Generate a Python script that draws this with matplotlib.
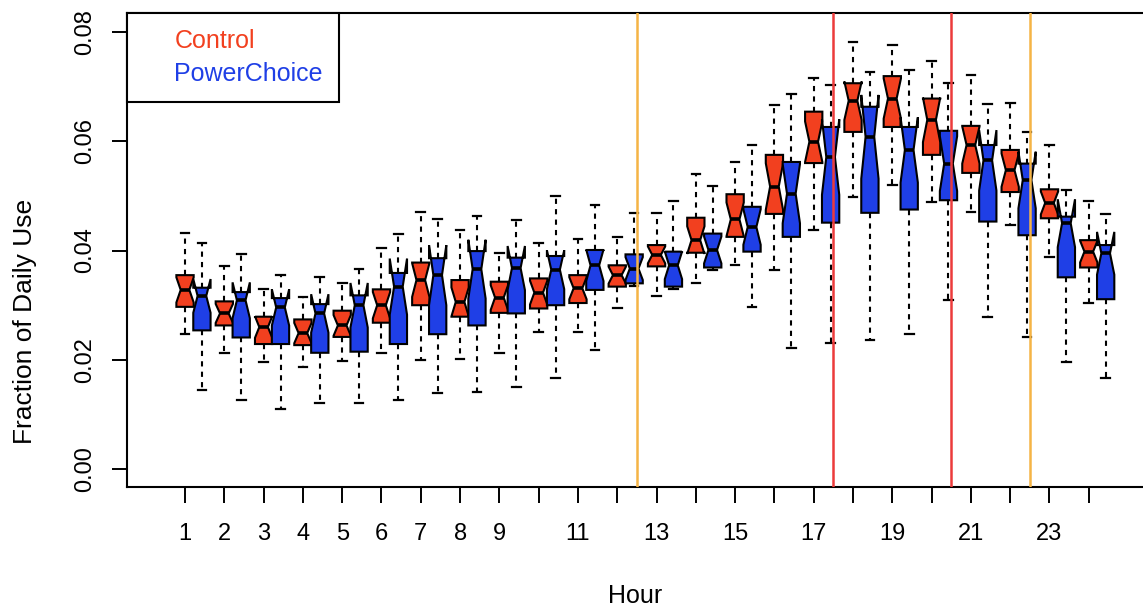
import numpy as np
import matplotlib
matplotlib.use("Agg")
import matplotlib.pyplot as plt
from matplotlib.lines import Line2D

plt.rcParams['font.family'] = ['Liberation Sans', 'DejaVu Sans']

hours = list(range(1, 25))
tick_labels = ['1', '2', '3', '4', '5', '6', '7', '8', '9', '', '11', '', '13', '',
               '15', '', '17', '', '19', '', '21', '', '23', '']

# Control: lower whisker, Q1, median, Q3, upper whisker
control_lo = [0.0247, 0.0212, 0.0196, 0.0187, 0.0198, 0.0212, 0.0199, 0.0201, 0.0213, 0.0251, 0.0251, 0.0294,
              0.0317, 0.0340, 0.0373, 0.0364, 0.0437, 0.0498, 0.0520, 0.0489, 0.0471, 0.0446, 0.0388, 0.0304]
control_q1 = [0.0297, 0.0263, 0.0229, 0.0227, 0.0242, 0.0268, 0.0300, 0.0279, 0.0286, 0.0294, 0.0304, 0.0334,
              0.0371, 0.0396, 0.0425, 0.0467, 0.0560, 0.0617, 0.0626, 0.0575, 0.0542, 0.0507, 0.0459, 0.0369]
control_med = [0.0328, 0.0285, 0.0260, 0.0249, 0.0263, 0.0300, 0.0346, 0.0306, 0.0314, 0.0323, 0.0331, 0.0355,
               0.0392, 0.0419, 0.0457, 0.0517, 0.0599, 0.0674, 0.0678, 0.0639, 0.0593, 0.0547, 0.0487, 0.0398]
control_q3 = [0.0355, 0.0307, 0.0279, 0.0274, 0.0290, 0.0329, 0.0378, 0.0346, 0.0343, 0.0349, 0.0355, 0.0373,
              0.0410, 0.0460, 0.0503, 0.0575, 0.0654, 0.0706, 0.0719, 0.0678, 0.0628, 0.0584, 0.0512, 0.0419]
control_hi = [0.0432, 0.0371, 0.0329, 0.0315, 0.0340, 0.0404, 0.0471, 0.0437, 0.0396, 0.0414, 0.0422, 0.0425,
              0.0468, 0.0540, 0.0562, 0.0666, 0.0715, 0.0782, 0.0776, 0.0747, 0.0721, 0.0670, 0.0593, 0.0491]

# PowerChoice
pc_lo = [0.0145, 0.0126, 0.0110, 0.0121, 0.0121, 0.0126, 0.0139, 0.0141, 0.0151, 0.0166, 0.0218, 0.0335,
         0.0330, 0.0365, 0.0297, 0.0221, 0.0230, 0.0236, 0.0248, 0.0309, 0.0278, 0.0242, 0.0196, 0.0166]
pc_q1 = [0.0254, 0.0241, 0.0229, 0.0213, 0.0215, 0.0229, 0.0247, 0.0263, 0.0285, 0.0300, 0.0328, 0.0340,
         0.0334, 0.0369, 0.0398, 0.0425, 0.0451, 0.0469, 0.0475, 0.0492, 0.0453, 0.0428, 0.0351, 0.0311]
pc_med = [0.0317, 0.0309, 0.0296, 0.0285, 0.0300, 0.0334, 0.0355, 0.0366, 0.0368, 0.0365, 0.0373, 0.0367,
          0.0373, 0.0401, 0.0443, 0.0504, 0.0571, 0.0608, 0.0584, 0.0559, 0.0565, 0.0529, 0.0450, 0.0395]
pc_q3 = [0.0332, 0.0324, 0.0313, 0.0302, 0.0318, 0.0359, 0.0386, 0.0399, 0.0387, 0.0390, 0.0401, 0.0393,
         0.0398, 0.0431, 0.0480, 0.0562, 0.0626, 0.0663, 0.0626, 0.0619, 0.0593, 0.0559, 0.0462, 0.0410]
pc_hi = [0.0414, 0.0393, 0.0355, 0.0351, 0.0367, 0.0431, 0.0457, 0.0463, 0.0456, 0.0500, 0.0483, 0.0468,
         0.0491, 0.0518, 0.0593, 0.0686, 0.0703, 0.0727, 0.0730, 0.0707, 0.0668, 0.0617, 0.0511, 0.0467]

# approx. sample sizes used for the notches (R: med +/- 1.58*IQR/sqrt(n))
n_control = 16
n_pc = 16

peak_lines = [(12.5, '#f5b445'), (17.5, '#ec3b3b'), (20.5, '#ec3b3b'), (22.5, '#f5b445')]


def make_stats(lo, q1, med, q3, hi, n):
    stats = []
    for a, b, m, c, d in zip(lo, q1, med, q3, hi):
        half = 1.58 * (c - b) / np.sqrt(n)
        stats.append(dict(whislo=a, q1=b, med=m, q3=c, whishi=d,
                          cilo=m - half, cihi=m + half, fliers=[]))
    return stats


fig = plt.figure(figsize=(11.43, 6.06), dpi=100)
ax = fig.add_axes([0.111, 0.196, 0.889, 0.7825])

width = 0.44
offset = 0.43
for stats, pos, color in [
    (make_stats(control_lo, control_q1, control_med, control_q3, control_hi, n_control),
     np.array(hours, dtype=float), '#f2401f'),
    (make_stats(pc_lo, pc_q1, pc_med, pc_q3, pc_hi, n_pc),
     np.array(hours, dtype=float) + offset, '#1f3fe6'),
]:
    ax.bxp(stats, positions=pos, widths=width, shownotches=True, patch_artist=True,
           showfliers=False, manage_ticks=False,
           boxprops=dict(facecolor=color, edgecolor='black', linewidth=1.5),
           whiskerprops=dict(color='black', linewidth=1.5, linestyle=(0, (2.5, 2.5))),
           capprops=dict(color='black', linewidth=1.6),
           medianprops=dict(color='black', linewidth=2.6, solid_capstyle='butt'))

for x, c in peak_lines:
    ax.axvline(x, color=c, linewidth=1.8, zorder=5)

ax.set_xlim(-0.48, 25.38)
ax.set_ylim(-0.00329, 0.08344)
ax.set_xticks(hours)
ax.set_xticklabels(tick_labels, fontsize=17)
ax.set_yticks([0.0, 0.02, 0.04, 0.06, 0.08])
ax.set_yticklabels(['0.00', '0.02', '0.04', '0.06', '0.08'], fontsize=17, rotation=90, va='center')
ax.tick_params(axis='x', length=11.5, width=1.4, pad=14)
ax.tick_params(axis='y', length=11, width=1.4, pad=11)
for side in ['left', 'top', 'bottom']:
    ax.spines[side].set_linewidth(1.5)
ax.spines['right'].set_visible(False)

ax.set_xlabel('Hour', fontsize=18, labelpad=28)
ax.set_ylabel('Fraction of Daily Use', fontsize=19)
ax.yaxis.set_label_coords(-0.088, 0.35)

handles = [Line2D([], [], linestyle='none'), Line2D([], [], linestyle='none')]
leg = ax.legend(handles, ['Control', 'PowerChoice'], loc='upper left', borderaxespad=0,
                fontsize=18, labelcolor=['#f2401f', '#1f3fe6'], handlelength=0.75,
                handletextpad=0.5, borderpad=0.65, labelspacing=0.35, fancybox=False,
                framealpha=1)
leg.get_frame().set_edgecolor('black')
leg.get_frame().set_linewidth(1.5)

fig.savefig('out.png', dpi=100)
